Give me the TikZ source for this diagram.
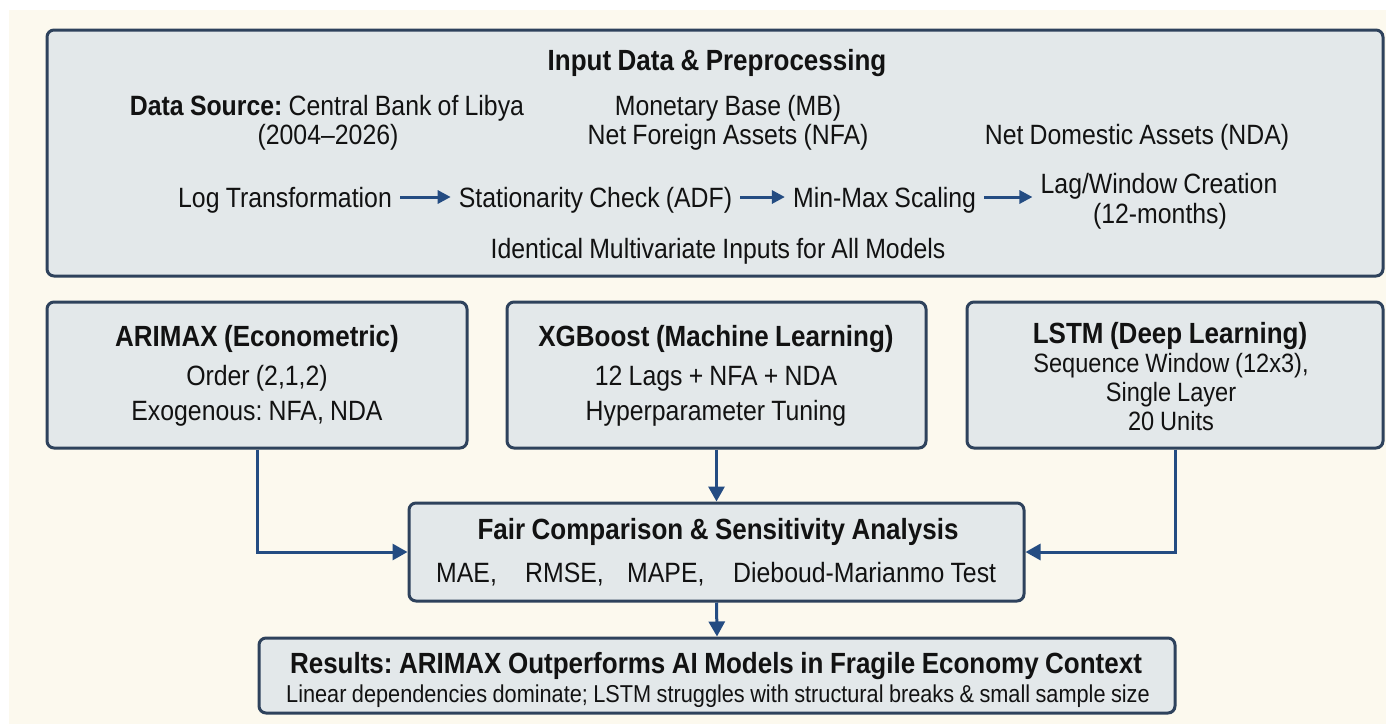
\documentclass[tikz,border=0pt]{standalone}
\usepackage{fontspec}
\setmainfont{Liberation Sans}[FakeStretch=0.89, WordSpace=0.9]
\usetikzlibrary{arrows.meta}
\frenchspacing
\definecolor{cream}{RGB}{252,249,238}
\definecolor{boxfill}{RGB}{227,232,234}
\definecolor{boxline}{RGB}{46,66,92}
\definecolor{arrowcol}{RGB}{36,76,130}
\definecolor{ink}{RGB}{18,18,18}
\newcommand{\fReg}{\fontsize{27.9pt}{30pt}\selectfont}
\newcommand{\fBold}{\fontsize{29.2pt}{31pt}\selectfont\bfseries}
\newcommand{\fLstm}{\fontsize{26.5pt}{29pt}\selectfont}
\newcommand{\fSub}{\fontsize{24.4pt}{27pt}\selectfont}
\begin{document}
\begin{tikzpicture}[x=1pt,y=-1pt,
  box/.style={draw=boxline, fill=boxfill, line width=3pt, rounded corners=7pt, inner sep=0pt},
  txt/.style={anchor=base, inner sep=0pt, text=ink, font=\fReg},
  ttl/.style={txt, font=\fBold},
  rowtxt/.style={txt, text height=20pt, text depth=0pt},
  link/.style={draw=arrowcol, line width=3pt, -{Triangle[length=15pt,width=16pt]}},
  rowarr/.style={draw=arrowcol, line width=3pt, -{Triangle[length=13pt,width=13pt]}, shorten <=8pt, shorten >=8pt}]
\path[use as bounding box, fill=white] (0,0) rectangle (1386,724);
\fill[cream] (9,10) rectangle (1386,724);

% boxes
\node[box, minimum width=1336pt, minimum height=246pt] (inbox) at (715,153) {};
\node[box, minimum width=420pt, minimum height=146pt] (arimax) at (257,375) {};
\node[box, minimum width=419pt, minimum height=146pt] (xgb) at (716.5,375) {};
\node[box, minimum width=416pt, minimum height=146pt] (lstm) at (1175,375) {};
\node[box, minimum width=615pt, minimum height=98pt] (fair) at (716.5,552) {};
\node[box, minimum width=916pt, minimum height=75pt] (res) at (717,675.5) {};

% connectors
\draw[link] (arimax.south) |- (fair.west);
\draw[link] (lstm.south) |- (fair.east);
\draw[link] (xgb.south) -- (fair.north);
\draw[link] (fair.south) -- (res.north);

% input box texts
\node[ttl] (t0) at (717,70) {Input Data \& Preprocessing};
\node[txt] (ds1) at (327,115) {{\bfseries Data Source:} Central Bank of Libya};
\node[txt] (ds2) at (328,144) {(2004–2026)};
\node[txt] (mb) at (728,115) {Monetary Base (MB)};
\node[txt] (nfa) at (728,144) {Net Foreign Assets (NFA)};
\node[txt] (nda) at (1137,144) {Net Domestic Assets (NDA)};
\node[rowtxt] (log) at (285,207) {Log Transformation};
\node[rowtxt] (stat) at (595.5,207) {Stationarity Check (ADF)};
\node[rowtxt] (scal) at (884.5,207) {Min-Max Scaling};
\node[txt] (lag1) at (1159,193) {Lag/Window Creation};
\node[txt] (lag2) at (1160,223) {(12-months)};
\node[txt] (ident) at (718,258) {Identical Multivariate Inputs for All Models};
\draw[rowarr] (log.east) -- (stat.west);
\draw[rowarr] (stat.east) -- (scal.west);
\draw[rowarr] (scal.east) -- (scal.east -| lag1.west);

% ARIMAX
\node[ttl] (a1) at (257,346) {ARIMAX (Econometric)};
\node[txt] (a2) at (257,385) {Order (2,1,2)};
\node[txt] (a3) at (257,420) {Exogenous: NFA, NDA};
% XGBoost
\node[ttl] (x1) at (716,346) {XGBoost (Machine Learning)};
\node[txt] (x2) at (716,385) {12 Lags + NFA + NDA};
\node[txt] (x3) at (716,420) {Hyperparameter Tuning};
% LSTM
\node[ttl] (l1) at (1170,343) {LSTM (Deep Learning)};
\node[txt, font=\fLstm] (l2) at (1171,372) {Sequence Window (12x3),};
\node[txt, font=\fLstm] (l3) at (1171,401) {Single Layer};
\node[txt, font=\fLstm] (l4) at (1171,430) {20 Units};

% Fair comparison
\node[ttl] (f1) at (718,539) {Fair Comparison \& Sensitivity Analysis};
\node[txt, anchor=base west] (m1) at (436,582) {MAE,};
\node[txt, anchor=base west] (m2) at (525,582) {RMSE,};
\node[txt, anchor=base west] (m3) at (627,582) {MAPE,};
\node[txt, anchor=base west] (m4) at (733,582) {Dieboud-Marianmo Test};

% Results
\node[ttl] (r1) at (716,673) {Results: ARIMAX Outperforms AI Models in Fragile Economy Context};
\node[txt, font=\fSub] (r2) at (718,702) {Linear dependencies dominate; LSTM struggles with structural breaks \& small sample size};
\end{tikzpicture}
\end{document}
